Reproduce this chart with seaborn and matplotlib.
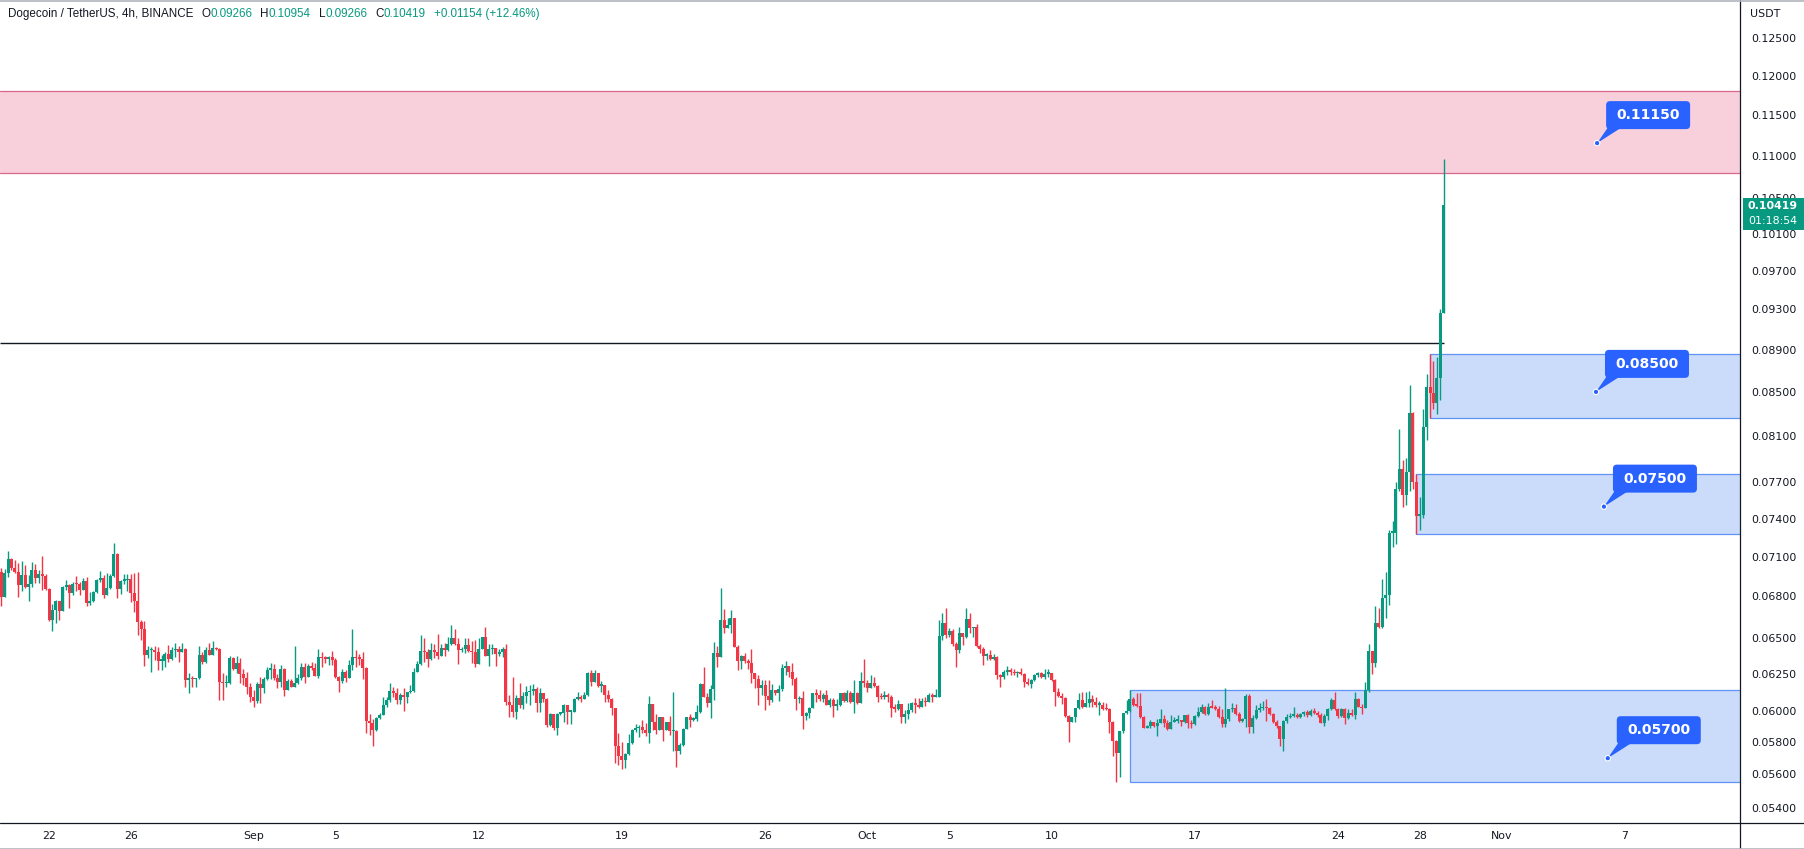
import numpy as np
import pandas as pd
import matplotlib
matplotlib.use("Agg")
import matplotlib.pyplot as plt
import matplotlib.dates as mdates
import matplotlib.transforms as mtransforms
from matplotlib.patches import Rectangle, FancyBboxPatch, Polygon, Circle
from matplotlib.lines import Line2D
from matplotlib.ticker import FixedLocator, NullLocator
import seaborn as sns

# ---------------- data ----------------
symbol_title = "Dogecoin / TetherUS, 4h, BINANCE"
last_candle_time = "2022-10-29 04:00"
first_open = 0.06949

closes = [
    .06984,.06799,.06974,.07083,.07017,.06984,.06886,.06961,.06873,.06891,
    .06999,.06941,.06969,.06956,.06856,.06628,.06700,.06767,.06695,.06868,
    .06886,.06829,.06893,.06891,.06848,.06916,.06749,.06767,.06836,.06923,
    .06936,.06811,.06861,.06954,.07119,.06856,.06918,.06923,.06928,.06824,
    .06769,.06616,.06563,.06379,.06414,.06414,.06398,.06340,.06340,.06384,
    .06352,.06414,.06421,.06403,.06421,.06208,.06219,.06212,.06219,.06379,
    .06334,.06414,.06379,.06426,.06421,.06197,.06185,.06185,.06361,.06283,
    .06327,.06248,.06219,
    .06163,.06096,.06069,.06181,.06152,.06215,.06276,.06283,.06219,.06192,
    .06283,.06141,.06204,.06163,.06185,.06219,.06299,.06230,.06306,.06288,
    .06237,.06363,.06356,.06352,.06363,.06345,.06230,.06204,.06265,.06223,
    .06311,.06363,.06356,.06352,.06292,.05939,.05922,.05875,.05954,.05976,
    .06041,.06074,.06136,.06123,.06074,.06107,.06096,.06125,.06136,.06265,
    .06317,.06410,.06398,.06352,.06414,.06403,.06375,.06426,.06414,.06454,
    .06497,.06456,.06414,.06419,.06449,.06410,.06398,.06317,.06421,.06504,
    .06372,.06421,.06426,.06386,.06403,.06421,.06063,
    .06041,.05997,.06085,.06041,.06100,.06127,.06134,.06147,.06056,.06118,
    .06081,.05911,.05982,.05893,.05982,.05986,.06041,.05997,.05997,.06081,
    .06085,.06083,.06107,.06258,.06196,.06258,.06169,.06174,.06107,.06081,
    .06019,.05779,.05711,.05686,.05727,.05796,.05879,.05889,.05899,.05879,
    .05858,.06045,.05928,.05875,.05959,.05879,.05928,.05869,.05869,.05748,
    .05783,.05885,.05965,.05943,.05950,.05993,.06181,.06096,.06052,.06147,
    .06396,.06368,.06628,.06568,.06592,.06645,.06438,.06340,.06373,.06340,
    .06322,.06253,.06213,
    .06152,.06174,.06100,.06074,.06141,.06123,.06147,.06288,.06304,.06265,
    .06213,.06078,.06085,.05969,.05991,.06023,.06118,.06107,.06081,.06107,
    .06041,.06074,.06037,.06041,.06118,.06069,.06123,.06063,.06123,.06056,
    .06201,.06190,.06156,.06185,.06167,.06096,.06092,.06107,.06096,.06023,
    .06015,.06045,.05959,.05982,.06008,.06056,.06041,.06030,.06067,.06059,
    .06107,.06096,.06096,.06516,.06609,.06520,.06551,.06457,.06414,.06537,
    .06509,.06635,.06568,.06575,.06445,.06421,.06375,.06380,.06352,.06363,
    .06242,.06230,.06262,.06274,
    .06265,.06253,.06260,.06249,.06196,.06178,.06208,.06242,.06253,.06230,
    .06249,.06253,.06208,.06130,.06103,.06085,.05969,.05932,.05961,.06019,
    .06074,.06030,.06056,.06078,.06063,.06041,.06041,.06015,.06012,.05928,
    .05807,.05733,.05869,.05987,.06004,.06081,.06041,.06037,.05961,.05893,
    .05906,.05928,.05906,.05922,.05948,.05926,.05883,.05932,.05937,.05943,
    .05928,.05976,.05926,.05915,.05969,.05993,.06026,.05982,.06030,.06023,
    .06015,.05965,.05917,.05948,.06012,.06023,.05982,.05937,.05948,.06100,
    .05899,.05954,.06008,.06019,.06030,.06019,.05980,.05928,.05904,.05822,
    .05937,.05959,.05969,.05976,.05965,.05980,.05997,.05976,.06004,.05991,
    .05976,.05926,.05969,.06012,.06074,.06012,.05969,.06012,.05954,.05991,
    .05976,.06081,.06030,
    .06019,.06143,.06410,.06327,.06606,.06577,.06785,.06809,.07288,.07288,
    .07646,.07813,.07594,.07787,.08309,.07703,.07425,.07434,.08184,.08547,
    .08491,.08393,.08628,.09266,.10419,
]

highs = [
    .07161,.07012,.07004,.07145,.07093,.07075,.07055,.07068,.07037,.06961,
    .07062,.07042,.06999,.07106,.06966,.06866,.06744,.06774,.06762,.06878,
    .06923,.06891,.06911,.06954,.06911,.06936,.06943,.06836,.06841,.06928,
    .06991,.06961,.06974,.06969,.07205,.07127,.06923,.06969,.06969,.06966,
    .06974,.06986,.06628,.06623,.06442,.06438,.06442,.06438,.06379,.06403,
    .06449,.06438,.06466,.06442,.06466,.06426,.06253,.06235,.06219,.06442,
    .06403,.06438,.06466,.06478,.06438,.06426,.06253,.06242,.06372,.06368,
    .06372,.06361,.06283,
    .06265,.06185,.06141,.06196,.06230,.06230,.06299,.06327,.06317,.06249,
    .06311,.06288,.06213,.06213,.06439,.06249,.06322,.06322,.06317,.06329,
    .06322,.06421,.06398,.06372,.06372,.06407,.06356,.06235,.06281,.06276,
    .06345,.06563,.06414,.06386,.06398,.06299,.05982,.05950,.05965,.05991,
    .06096,.06096,.06185,.06158,.06152,.06118,.06152,.06125,.06174,.06292,
    .06340,.06520,.06497,.06421,.06466,.06454,.06527,.06454,.06461,.06504,
    .06591,.06560,.06497,.06438,.06497,.06497,.06480,.06485,.06497,.06504,
    .06575,.06456,.06454,.06426,.06421,.06438,.06454,
    .06107,.06230,.06107,.06190,.06130,.06167,.06174,.06183,.06158,.06152,
    .06123,.06088,.05991,.05982,.05991,.05997,.06048,.06041,.06004,.06085,
    .06125,.06107,.06130,.06262,.06276,.06276,.06258,.06201,.06174,.06141,
    .06085,.06019,.05858,.05801,.05733,.05854,.05883,.05917,.05910,.05943,
    .05926,.06100,.06045,.05982,.05965,.05959,.05932,.05969,.06130,.05875,
    .05793,.05889,.05965,.05982,.05965,.06041,.06185,.06299,.06118,.06174,
    .06467,.06442,.06865,.06705,.06640,.06700,.06645,.06449,.06380,.06396,
    .06350,.06419,.06253,
    .06242,.06208,.06208,.06208,.06178,.06141,.06174,.06317,.06338,.06304,
    .06327,.06230,.06100,.06132,.05997,.06030,.06118,.06147,.06141,.06123,
    .06141,.06085,.06085,.06078,.06123,.06130,.06141,.06134,.06208,.06130,
    .06265,.06350,.06208,.06242,.06230,.06174,.06118,.06134,.06118,.06107,
    .06045,.06074,.06048,.06008,.06056,.06063,.06085,.06089,.06089,.06096,
    .06118,.06118,.06147,.06628,.06681,.06717,.06567,.06560,.06471,.06575,
    .06537,.06717,.06681,.06580,.06597,.06457,.06433,.06392,.06414,.06384,
    .06372,.06249,.06274,.06304,
    .06288,.06281,.06270,.06288,.06258,.06219,.06213,.06249,.06265,.06260,
    .06281,.06281,.06258,.06212,.06152,.06118,.06096,.05976,.05965,.06023,
    .06123,.06130,.06130,.06134,.06107,.06092,.06067,.06063,.06052,.06019,
    .05937,.05815,.05869,.05991,.06074,.06141,.06092,.06118,.06118,.05969,
    .05910,.05943,.05932,.05948,.06012,.05976,.05943,.05976,.05965,.05972,
    .05943,.05976,.05982,.05943,.05976,.06030,.06048,.06034,.06056,.06074,
    .06041,.06034,.06012,.06152,.06012,.06052,.06048,.05993,.05954,.06114,
    .06114,.05976,.06041,.06052,.06069,.06078,.06030,.05987,.05943,.05906,
    .05943,.05982,.05991,.06030,.05987,.05987,.06001,.06008,.06012,.06019,
    .06004,.05991,.05980,.06019,.06085,.06130,.06023,.06023,.06019,.06012,
    .06012,.06130,.06089,
    .06045,.06196,.06459,.06410,.06727,.06716,.06929,.06982,.07314,.07384,
    .07703,.08159,.07889,.07905,.08566,.08320,.07771,.07578,.08346,.08666,
    .08859,.08790,.08825,.09306,.10954,
]

lows = [
    .06886,.06730,.06799,.06949,.06999,.06974,.06799,.06841,.06861,.06769,
    .06873,.06898,.06898,.06848,.06848,.06623,.06551,.06604,.06628,.06695,
    .06848,.06718,.06811,.06843,.06811,.06848,.06730,.06737,.06762,.06824,
    .06911,.06792,.06811,.06856,.06949,.06792,.06819,.06891,.06843,.06762,
    .06688,.06520,.06485,.06306,.06361,.06265,.06345,.06276,.06276,.06294,
    .06334,.06345,.06368,.06334,.06403,.06163,.06123,.06163,.06163,.06212,
    .06315,.06322,.06379,.06379,.06414,.06074,.06074,.06163,.06180,.06276,
    .06253,.06185,.06174,
    .06114,.06063,.06026,.06056,.06052,.06123,.06208,.06213,.06208,.06152,
    .06163,.06103,.06141,.06163,.06158,.06181,.06208,.06190,.06230,.06276,
    .06235,.06223,.06299,.06322,.06311,.06311,.06223,.06130,.06185,.06197,
    .06223,.06276,.06299,.06311,.06215,.05862,.05843,.05779,.05869,.05948,
    .05972,.06026,.06063,.06096,.06048,.06048,.06004,.06052,.06123,.06130,
    .06265,.06311,.06329,.06299,.06345,.06356,.06352,.06375,.06375,.06410,
    .06449,.06449,.06317,.06398,.06391,.06403,.06322,.06299,.06317,.06421,
    .06372,.06306,.06386,.06304,.06372,.06368,.06041,
    .05959,.05965,.05950,.06019,.06015,.06052,.06041,.06107,.05997,.05997,
    .06060,.05896,.05902,.05879,.05847,.05976,.05932,.05917,.05917,.05997,
    .06074,.06058,.06081,.06103,.06167,.06192,.06163,.06130,.06063,.06063,
    .05976,.05669,.05659,.05634,.05640,.05718,.05789,.05868,.05831,.05858,
    .05837,.05798,.05879,.05854,.05875,.05811,.05879,.05848,.05748,.05644,
    .05727,.05779,.05885,.05896,.05934,.05939,.05991,.06092,.06030,.05954,
    .06074,.06299,.06368,.06532,.06568,.06532,.06433,.06276,.06281,.06322,
    .06281,.06185,.06152,
    .06041,.06107,.06008,.06041,.06063,.06107,.06067,.06136,.06242,.06226,
    .06174,.06008,.06052,.05885,.05943,.05954,.06023,.06063,.06067,.06063,
    .06041,.06030,.05965,.06008,.06034,.06063,.06063,.06052,.05991,.06048,
    .06052,.06163,.06130,.06156,.06163,.06063,.06078,.06078,.06063,.05965,
    .05997,.06008,.05922,.05922,.05947,.05997,.05991,.06019,.06030,.06034,
    .06063,.06063,.06092,.06096,.06485,.06497,.06509,.06445,.06299,.06392,
    .06447,.06501,.06532,.06509,.06438,.06392,.06311,.06345,.06345,.06345,
    .06215,.06163,.06216,.06244,
    .06242,.06242,.06230,.06242,.06158,.06174,.06156,.06199,.06226,.06219,
    .06215,.06226,.06204,.06037,.06096,.06046,.05961,.05801,.05932,.05932,
    .06012,.06019,.06026,.06030,.06030,.06030,.05976,.06008,.06008,.05862,
    .05711,.05553,.05583,.05859,.05982,.05993,.06037,.06030,.05954,.05889,
    .05889,.05889,.05899,.05837,.05922,.05899,.05879,.05885,.05928,.05922,
    .05904,.05922,.05889,.05889,.05911,.05961,.05987,.05976,.05978,.06019,
    .06008,.05954,.05899,.05899,.05937,.05997,.05976,.05928,.05928,.05899,
    .05862,.05862,.05948,.05997,.06008,.05937,.05976,.05922,.05889,.05779,
    .05748,.05922,.05954,.05961,.05954,.05954,.05969,.05961,.05969,.05980,
    .05965,.05922,.05904,.05943,.06008,.06008,.05954,.05961,.05915,.05948,
    .05969,.05948,.06026,
    .05979,.06019,.06125,.06245,.06294,.06570,.06570,.06640,.06736,.07178,
    .07203,.07630,.07496,.07515,.07627,.07646,.07282,.07314,.07410,.08061,
    .08263,.08346,.08299,.08429,.09266,
]

resistance_zone = (0.10798, 0.11803)
breakout_level = 0.08965
support_zones = [("2022-10-28 12:00", 0.08263, 0.08859),
                 ("2022-10-27 20:00", 0.07282, 0.07771),
                 ("2022-10-13 20:00", 0.05552, 0.06137)]
callout_labels = ["0.11150", "0.08500", "0.07500", "0.05700"]
callout_prices = [0.1115, 0.0850, 0.0750, 0.0570]
callout_times = ["2022-11-05 16:00", "2022-11-05 14:40", "2022-11-06 00:00", "2022-11-06 04:30"]

ytick_values = [0.054, 0.056, 0.058, 0.060, 0.0625, 0.065, 0.068, 0.071, 0.074, 0.077,
                0.081, 0.085, 0.089, 0.093, 0.097, 0.101, 0.105, 0.110, 0.115, 0.120, 0.125]
ytick_labels = ["0.05400", "0.05600", "0.05800", "0.06000", "0.06250", "0.06500", "0.06800",
                "0.07100", "0.07400", "0.07700", "0.08100", "0.08500", "0.08900", "0.09300",
                "0.09700", "0.10100", "0.10500", "0.11000", "0.11500", "0.12000", "0.12500"]
xtick_dates = ["2022-08-22", "2022-08-26", "2022-09-01", "2022-09-05", "2022-09-12",
               "2022-09-19", "2022-09-26", "2022-10-01", "2022-10-05", "2022-10-10",
               "2022-10-17", "2022-10-24", "2022-10-28", "2022-11-01", "2022-11-07"]
xtick_labels = ["22", "26", "Sep", "5", "12", "19", "26", "Oct", "5", "10", "17", "24", "28", "Nov", "7"]
change_text = "+0.01154 (+12.46%)"
countdown_text = "01:18:54"
currency_text = "USDT"

# ---------------- styling / layout ----------------
GREEN = "#089981"
RED = "#f23645"
DARK = "#131722"
BLUE = "#2962ff"
W, H = 1804, 849
AX_R, AX_B = 1740, 823
X_LEFT_DAYS, X_RIGHT_DAYS = -2.395, 82.65    # relative to Aug 22 00:00
Y_MIN, Y_MAX = 0.05311, 0.13034
LBL = 7.9

sns.set_theme(style="white")
plt.rcParams['font.family'] = ['DejaVu Sans']

n = len(closes)
times = pd.date_range(end=last_candle_time, periods=n, freq="4h")
opens = [first_open] + closes[:-1]
df = pd.DataFrame({"time": times, "open": opens, "high": highs, "low": lows, "close": closes})
df["high"] = df[["high", "open", "close"]].max(axis=1)
df["low"] = df[["low", "open", "close"]].min(axis=1)
df["x"] = mdates.date2num(df["time"].dt.to_pydatetime())
df["up"] = df["close"] >= df["open"]
df["color"] = np.where(df["up"], GREEN, RED)
df["bot"] = df[["open", "close"]].min(axis=1)
df["top"] = np.maximum(df[["open", "close"]].max(axis=1), df["bot"] * 1.0016)

fig = plt.figure(figsize=(W / 100, H / 100), dpi=100)
fig.patch.set_facecolor("white")
ax = fig.add_axes([0, (H - AX_B) / H, AX_R / W, AX_B / H])
ax.set_facecolor("white")
ax.set_yscale("log")

base = mdates.date2num(pd.Timestamp("2022-08-22").to_pydatetime())
ax.set_xlim(base + X_LEFT_DAYS, base + X_RIGHT_DAYS)
ax.set_ylim(Y_MIN, Y_MAX)

# zones
ax.axhspan(resistance_zone[0], resistance_zone[1], facecolor="#f8d0dc", edgecolor="none", zorder=1)
for v in resistance_zone:
    ax.axhline(v, color="#d9668b", lw=0.9, zorder=1.2)

for t0, lo, hi in support_zones:
    x0 = mdates.date2num(pd.Timestamp(t0).to_pydatetime())
    ax.add_patch(Rectangle((x0, lo), base + X_RIGHT_DAYS + 5 - x0, hi - lo,
                           facecolor="#cbdcfb", edgecolor="#5f93f5", lw=0.9, zorder=1))

# breakout line
ax.hlines(breakout_level, base + X_LEFT_DAYS, df["x"].iloc[-1], color=DARK, lw=1.0, zorder=2)

# candles
bw = 0.88 / 6.0
ax.vlines(df["x"], df["low"], df["high"], colors=df["color"], lw=1.0, zorder=3)
ax.bar(df["x"], df["top"] - df["bot"], bottom=df["bot"], width=bw, color=df["color"],
       linewidth=0, zorder=4, align="center")

# axes ticks
ax.yaxis.tick_right()
ax.yaxis.set_major_locator(FixedLocator(ytick_values))
ax.yaxis.set_minor_locator(NullLocator())
ax.set_yticklabels(ytick_labels)
ax.tick_params(axis="y", length=0, pad=8, labelsize=LBL, labelcolor=DARK)
xt = [mdates.date2num(pd.Timestamp(d).to_pydatetime()) for d in xtick_dates]
ax.set_xticks(xt)
ax.set_xticklabels(xtick_labels)
ax.tick_params(axis="x", length=0, pad=6, labelsize=LBL, labelcolor=DARK)
ax.grid(False)
for s in ax.spines.values():
    s.set_visible(False)

ID = mtransforms.IdentityTransform()

# frame lines (pixels)
fig.add_artist(Line2D([AX_R, AX_R], [0, H], color=DARK, lw=0.9, transform=ID))
fig.add_artist(Line2D([0, W], [H - AX_B, H - AX_B], color=DARK, lw=0.9, transform=ID))
fig.add_artist(Line2D([0, W], [H - 0.5, H - 0.5], color="#b2b5be", lw=1.2, transform=ID))
fig.add_artist(Line2D([0, W], [0.5, 0.5], color="#b2b5be", lw=1.2, transform=ID))

# callouts
for lab, pr, tm in zip(callout_labels, callout_prices, callout_times):
    px, py = ax.transData.transform((mdates.date2num(pd.Timestamp(tm).to_pydatetime()), pr))
    bx, by = px + 9, py + 14
    bwid, bht = 84, 28
    fig.add_artist(Polygon([(px, py), (bx + 2, by + 2), (bx + 16, by + 2)], closed=True,
                           facecolor=BLUE, edgecolor="none", transform=ID))
    fig.add_artist(FancyBboxPatch((bx, by), bwid, bht, boxstyle="round,pad=0,rounding_size=4",
                                  facecolor=BLUE, edgecolor="none", transform=ID))
    fig.add_artist(Circle((px, py), 2.7, facecolor=BLUE, edgecolor="white", lw=0.8, transform=ID))
    fig.text(bx + bwid / 2, by + bht / 2, lab, transform=ID, ha="center", va="center",
             color="white", fontsize=10, fontweight="bold")

# last price badge
last = df.iloc[-1]
fig.add_artist(Rectangle((AX_R + 3, H - 230), W - AX_R - 3, 32, facecolor=GREEN, edgecolor="none", transform=ID))
fig.text(AX_R + 8, H - 206, f"{last['close']:.5f}", transform=ID, ha="left", va="center",
         color="white", fontsize=LBL, fontweight="bold")
fig.text(AX_R + 8, H - 221, countdown_text, transform=ID, ha="left", va="center",
         color="white", fontsize=LBL)
fig.text(1750, H - 14, currency_text, transform=ID, ha="left", va="center", color=DARK, fontsize=LBL)

# title line
renderer = fig.canvas.get_renderer()
segs = [(symbol_title, DARK, 8), ("O", DARK, 0), (f"{last['open']:.5f}", GREEN, 8),
        ("H", DARK, 0), (f"{last['high']:.5f}", GREEN, 8),
        ("L", DARK, 0), (f"{last['low']:.5f}", GREEN, 8),
        ("C", DARK, 0), (f"{last['close']:.5f}", GREEN, 8),
        (change_text, GREEN, 0)]
xx = 8
for s, c, gap in segs:
    t = fig.text(xx, H - 14, s, transform=ID, ha="left", va="center", color=c,
                 fontsize=8.4, family=["Liberation Sans", "DejaVu Sans"])
    xx += t.get_window_extent(renderer).width + gap

fig.savefig("out.png", dpi=100, facecolor="white")
